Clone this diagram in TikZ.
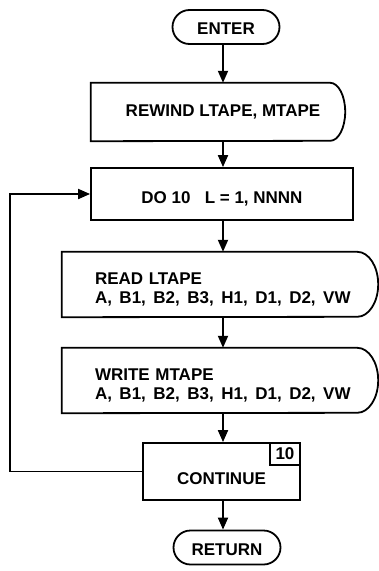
\documentclass[tikz,border=0pt]{standalone}
\usepackage{fontspec}
\setmainfont{Liberation Sans}
\usetikzlibrary{arrows.meta}
\newcommand\gsp{\hspace{7.5pt}}
\newcommand\lowr[1]{\raisebox{-5pt}[\height][\depth]{#1}}
\begin{document}
\begin{tikzpicture}[x=1pt,y=-1pt,
  ln/.style={line width=1.8pt},
  arr/.style={ln,-{Triangle[width=10pt,length=12pt]}},
  txt/.style={font=\fontsize{17}{19}\selectfont\bfseries},
  term/.style={txt,draw,ln,rounded corners=17pt,minimum width=107pt,minimum height=34pt,inner sep=0pt},
  blk/.style={txt,inner sep=0pt},
  procbox/.style={txt,draw,ln,inner sep=0pt}
]
\useasboundingbox[fill=white] (0,0) rectangle (379,571);
\node[term] (enter) at (226,27) {\raisebox{-2pt}[\height][\depth]{ENTER}};
\node[blk,minimum width=254pt,minimum height=58pt] (rewind) at (218,112) {\hspace*{10pt}REWIND LTAPE, MTAPE};
\draw[ln] (rewind.north west) -- ([xshift=-15pt]rewind.north east)
  arc[start angle=90,end angle=-90,x radius=15pt,y radius=29pt] -- (rewind.south west) -- cycle;
\node[procbox,minimum width=262pt,minimum height=52pt] (do) at (222,194) {\lowr{DO 10\ \ \ L = 1, NNNN}};
\node[blk,minimum width=316pt,minimum height=65pt,text width=250pt,inner xsep=33pt,align=left] (read) at (220,284.5)
  {\lowr{READ LTAPE}\\\lowr{A,\gsp B1,\gsp B2,\gsp B3,\gsp H1,\gsp D1,\gsp D2,\gsp VW}};
\draw[ln] (read.north west) -- ([xshift=-21pt]read.north east)
  arc[start angle=90,end angle=-90,x radius=21pt,y radius=32.5pt] -- (read.south west) -- cycle;
\node[blk,minimum width=316pt,minimum height=65pt,text width=250pt,inner xsep=33pt,align=left] (write) at (220,380.5)
  {\lowr{WRITE MTAPE}\\\lowr{A,\gsp B1,\gsp B2,\gsp B3,\gsp H1,\gsp D1,\gsp D2,\gsp VW}};
\draw[ln] (write.north west) -- ([xshift=-21pt]write.north east)
  arc[start angle=90,end angle=-90,x radius=21pt,y radius=32.5pt] -- (write.south west) -- cycle;
\node[procbox,minimum width=157pt,minimum height=57pt] (cont) at (221.5,471.5) {\raisebox{-7pt}[\height][\depth]{CONTINUE}};
\node[procbox,minimum width=30pt,minimum height=22pt,anchor=north east] (ten) at (cont.north east) {10};
\node[term] (ret) at (227,547.5) {\raisebox{-2pt}[\height][\depth]{RETURN}};
\coordinate (lx) at (10,0);
\draw[arr] (223,0 |- enter.south) -- (223,0 |- rewind.north);
\draw[arr] (223,0 |- rewind.south) -- (223,0 |- do.north);
\draw[arr] (223,0 |- do.south) -- (223,0 |- read.north);
\draw[arr] (223,0 |- read.south) -- (223,0 |- write.north);
\draw[arr] (223,0 |- write.south) -- (223,0 |- cont.north);
\draw[arr] (223,0 |- cont.south) -- (223,0 |- ret.north);
\draw[arr] (cont.west) -- (cont.west -| lx) -- (lx |- do.west) -- (do.west);
\end{tikzpicture}
\end{document}
